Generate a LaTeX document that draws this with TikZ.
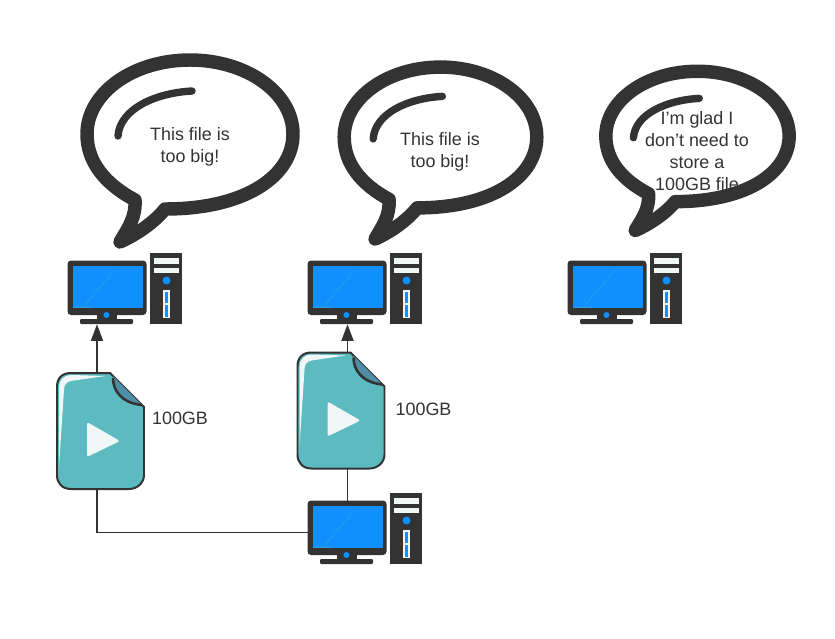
\documentclass[tikz,border=0pt]{standalone}
\usepackage{fontspec}
\setmainfont{Liberation Sans}
\usetikzlibrary{arrows.meta,positioning}
\definecolor{inkdark}{HTML}{333333}
\definecolor{screenblue}{HTML}{1090FF}
\definecolor{fileteal}{HTML}{5BBBC0}
\definecolor{foldteal}{HTML}{4F8FA5}
\definecolor{paleslot}{HTML}{F1F6F6}
\tikzset{
	caption/.style={font=\fontsize{15.3}{19}\selectfont, text=inkdark, align=center, inner sep=0pt},
	link/.style={draw=inkdark, line width=1.6pt},
	headtip/.style={-{Triangle[length=0.5cm, width=0.36cm]}},
	pcicon/.pic={
		\node [minimum width=2.37cm, minimum height=1.89cm, inner sep=0pt] (-monitor) at (39.5,31.5) {};
		\fill [inkdark, rounded corners=3pt] (-0.5,-0.5) rectangle (78.5,54);
		\fill [inkdark] (29,52) rectangle (49,59);
		\fill [inkdark, rounded corners=1pt] (12,58) rectangle (65,63);
		\fill [screenblue] (4.5,4.5) rectangle (74.5,47);
		\draw [densely dotted, screenblue!75!yellow, line width=0.6pt] (17,44) -- (47,9);
		\draw [densely dotted, screenblue!75!yellow, line width=0.5pt] (5,46.5) -- (24,46.5);
		\fill [screenblue] (38.5,54) circle (3);
		\fill [inkdark] (82,-8) rectangle (113.5,62.5);
		\fill [paleslot] (86,-3) rectangle (110.5,3);
		\fill [paleslot] (86,6.5) rectangle (110.5,12);
		\fill [screenblue] (98.5,19.5) circle (4);
		\fill [paleslot] (95,29) rectangle (101.5,57);
		\fill [screenblue] (96.5,30.5) rectangle (100,41.5);
		\fill [screenblue] (96.5,43.5) rectangle (100,55.5);
	},
	fileicon/.pic={
		\node [minimum width=2.61cm, minimum height=3.48cm, inner sep=0pt] (-body) at (43.5,58) {};
		\draw [fill=fileteal, draw=inkdark, line width=1.7pt] (0,14) .. controls (0,5) and (5,0) .. (14,0) -- (53,0) -- (87,34) -- (87,102) .. controls (87,110) and (80,116) .. (72,116) -- (14,116) .. controls (5,116) and (0,110) .. (0,102) -- cycle;
		\fill [paleslot] (2,94) -- (2,14) .. controls (2,7) and (7,2) .. (14,2) -- (48,3) -- (14,8) .. controls (9,9) and (7,12) .. (7,17) -- cycle;
		\fill [foldteal] (56,3) .. controls (56,17) and (64,30) .. (85,32) -- cycle;
		\draw [inkdark, line width=2.2pt] (56,5) .. controls (56,17) and (64,30) .. (85,32);
		\fill [paleslot, rounded corners=2pt] (30,49) -- (63,68) -- (30,84) -- cycle;
	},
	bubble/.pic={
		\draw [inkdark, line width=11.5pt, line cap=round, line join=round] (-55,66) .. controls (-85,50) and (-103,28) .. (-103,0) .. controls (-103,-41) and (-57,-74) .. (0,-74) .. controls (57,-74) and (103,-41) .. (103,0) .. controls (103,41) and (57,75) .. (-25,75) .. controls (-32,84) and (-48,98) .. (-70,108) .. controls (-62,94) and (-54,84) .. (-55,66);
		\draw [inkdark, line width=6.3pt, line cap=round] (-72,2) .. controls (-70,-25) and (-35,-41) .. (2,-43);
	}
}
\begin{document}
\begin{tikzpicture}[x=0.03cm, y=-0.03cm]
	\useasboundingbox (0,0) rectangle (835,638);
	\pic (bubbleone) at (190,134) {bubble};
	\pic (bubbletwo) [xscale=0.935, yscale=0.945] at (440.5,137) {bubble};
	\pic (bubblethree) [xscale=0.89, yscale=0.875] at (697.5,136) {bubble};
	\node [caption] (textone) at (190,147) {This file is\\too big!};
	\node [caption] (texttwo) at (440,152) {This file is\\too big!};
	\node [caption] (textthree) at (697,151) {I'm glad I\\don't need to\\store a\\100GB file};
	\pic (pcone) at (68,261) {pcicon};
	\pic (pctwo) at (308,261) {pcicon};
	\pic (pcthree) at (568,261) {pcicon};
	\pic (server) at (308,501) {pcicon};
	\pic (fileone) at (57,373) {fileicon};
	\pic (filetwo) at (297.5,352.5) {fileicon};
	\node [caption] (sizeone) at (180,418) {100GB};
	\node [caption] (sizetwo) at (423.5,409) {100GB};
	\draw [link, headtip] (fileone-body.north -| pcone-monitor.south) ++(-10.5,0) coordinate (startone) -- (startone |- pcone-monitor.south);
	\draw [link, headtip] (filetwo-body.north -| pctwo-monitor.south) -- (pctwo-monitor.south);
	\draw [link] (filetwo-body.south -| server-monitor.north) -- (server-monitor.north);
	\draw [link] (startone |- fileone-body.south) |- (server-monitor.west);
\end{tikzpicture}
\end{document}
